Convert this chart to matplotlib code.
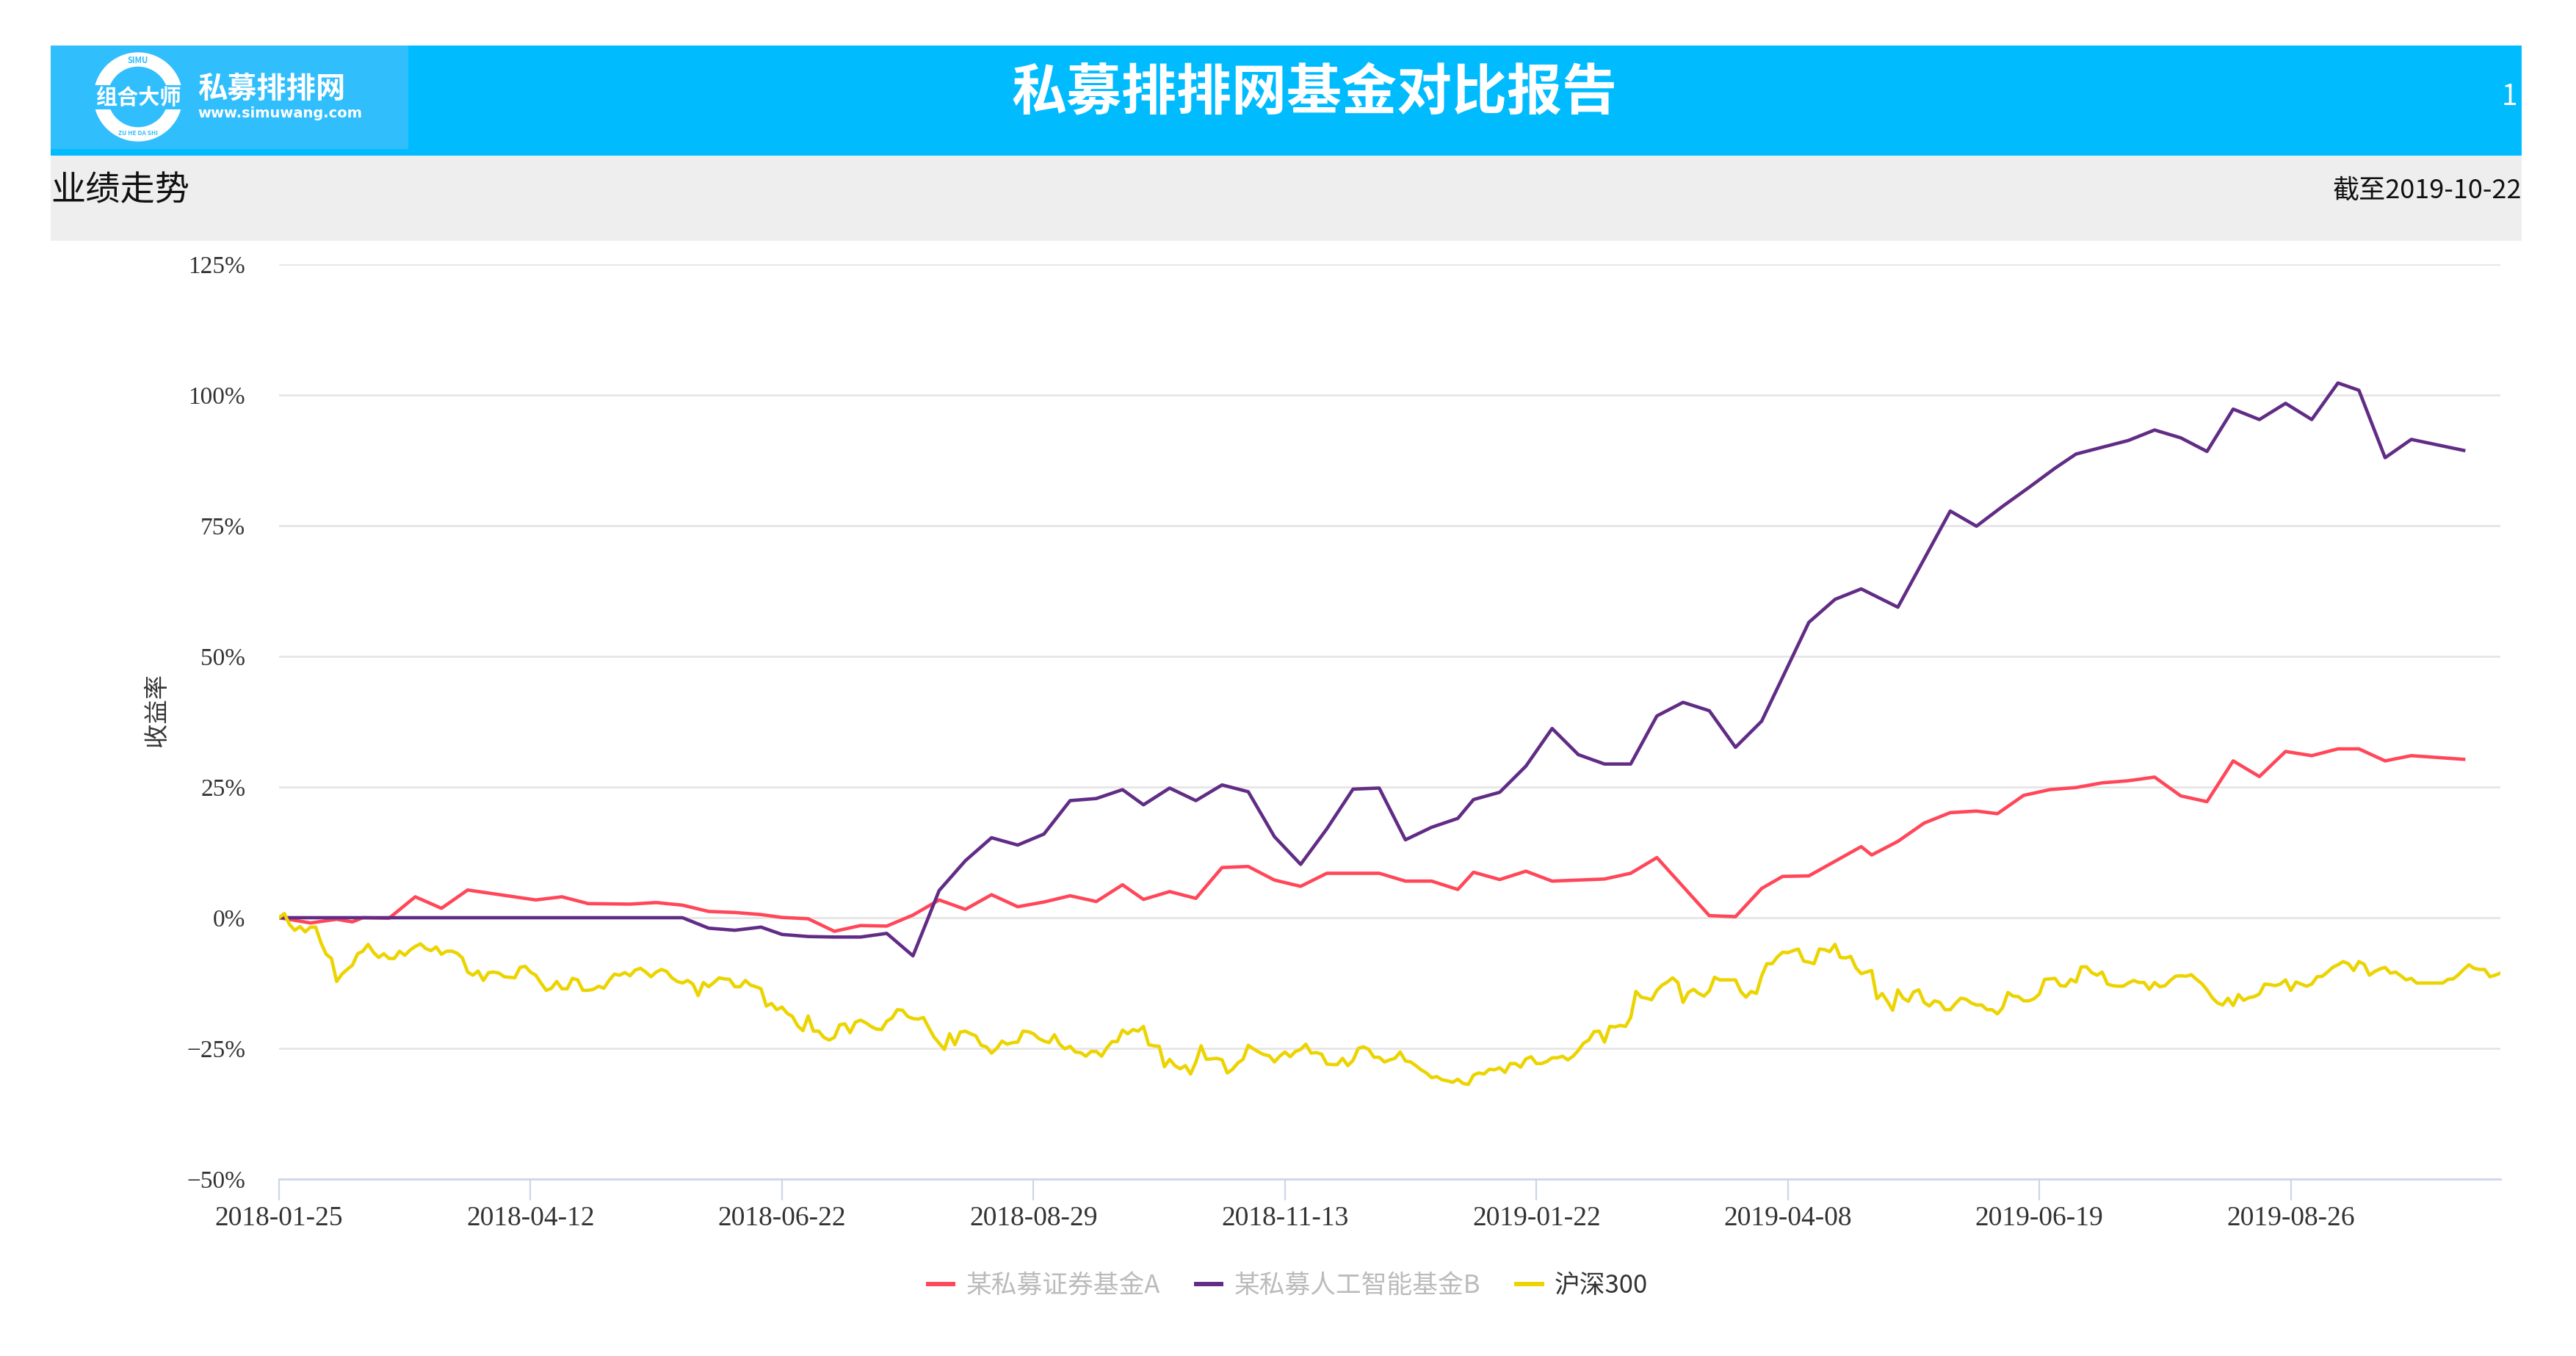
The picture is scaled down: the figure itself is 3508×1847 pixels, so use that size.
import numpy as np
import matplotlib.pyplot as plt
from matplotlib.patches import Rectangle, Circle

plt.rcParams['font.family'] = ['Noto Sans CJK SC', 'DejaVu Sans']

# 横轴是交易日序号（类目轴），每 48 个交易日一个标签
date_labels = ['2018-01-25', '2018-04-12', '2018-06-22', '2018-08-29', '2018-11-13',
               '2019-01-22', '2019-04-08', '2019-06-19', '2019-08-26']
label_step = 48
n_days = 425

y_ticks = [-50, -25, 0, 25, 50, 75, 100, 125]

fund_names = ['某私募证券基金A', '某私募人工智能基金B', '沪深300']

# 基金一（周度净值，单位 %）
fund_a_idx = [0, 6, 11, 14, 16, 21, 26, 31, 36, 49, 54, 59, 67, 72, 77, 82, 87, 92, 96, 101,
              106, 111, 116, 121, 126, 131, 136, 141, 146, 151, 156, 161, 165, 170, 175, 180,
              185, 190, 195, 200, 210, 215, 220, 225, 228, 233, 238, 243, 253, 258, 263, 273,
              278, 283, 287, 292, 297, 302, 304, 309, 314, 319, 324, 328, 333, 338, 343, 348,
              353, 358, 363, 368, 373, 378, 383, 388, 393, 397, 402, 407, 417]
fund_a_ret = [0.0, -1.0, -0.3, -0.8, 0.0, -0.1, 4.0, 1.8, 5.3, 3.4, 4.0, 2.7, 2.6, 2.9, 2.4,
              1.2, 1.0, 0.6, 0.05, -0.2,
              -2.6, -1.5, -1.6, 0.5, 3.4, 1.6, 4.4, 2.1, 3.0, 4.2, 3.1, 6.3, 3.5, 5.0, 3.7, 9.6,
              9.8, 7.2, 6.0, 8.5, 8.5, 7.0, 7.0, 5.4, 8.7, 7.3, 8.9, 7.0, 7.4, 8.5, 11.5, 0.4,
              0.2, 5.6, 7.9, 8.0, 10.8, 13.6, 12.0, 14.6, 18.1, 20.1, 20.4, 19.9, 23.4, 24.5,
              24.9, 25.8, 26.2, 26.9, 23.3, 22.2, 30.0, 27.0, 31.8, 31.0, 32.3, 32.3, 30.0,
              31.0, 30.3]

# 基金二（周度净值，单位 %）
fund_b_idx = [0, 77, 82, 87, 92, 96, 101, 106, 111, 116, 121, 126, 131, 136, 141, 146, 151,
              156, 161, 165, 170, 175, 180, 185, 190, 195, 200, 205, 210, 215, 220, 225, 228,
              233, 238, 243, 248, 253, 258, 263, 268, 273, 278, 283, 292, 297, 302, 309, 319,
              324, 329, 334, 339, 343, 348, 353, 358, 363, 368, 373, 378, 383, 388, 393, 397,
              402, 407, 417]
fund_b_ret = [0.0, 0.0, -2.0, -2.4, -1.8, -3.2, -3.6, -3.7, -3.7, -3.0, -7.3, 5.2, 10.9, 15.3,
              13.9, 16.0, 22.4, 22.8, 24.5, 21.6, 24.8, 22.4, 25.4, 24.1, 15.5, 10.2, 17.0,
              24.6, 24.8, 14.9, 17.3, 19.0, 22.6, 24.0, 29.0, 36.2, 31.2, 29.4, 29.4, 38.6,
              41.2, 39.6, 32.6, 37.6, 56.5, 60.9, 62.9, 59.4, 77.8, 74.9, 78.7, 82.3, 86.0,
              88.7, 90.0, 91.3, 93.3, 91.8, 89.2, 97.3, 95.3, 98.4, 95.3, 102.3, 100.9, 88.0,
              91.5, 89.4]

# 沪深300（日度，单位 %）
hs300_ret = [
    0.0, 0.8, -1.3, -2.4, -1.7, -2.7, -1.8, -1.8, -4.8, -7.0,
    -7.8, -12.2, -10.8, -9.9, -9.1, -6.9, -6.4, -5.1, -6.6, -7.6,
    -6.9, -7.8, -7.8, -6.4, -7.2, -6.2, -5.5, -5.0, -5.9, -6.3,
    -5.6, -7.0, -6.4, -6.4, -6.8, -7.7, -10.4, -11.0, -10.2, -12.0,
    -10.5, -10.4, -10.6, -11.3, -11.4, -11.5, -9.5, -9.3, -10.4, -11.0,
    -12.5, -13.9, -13.5, -12.2, -13.6, -13.6, -11.6, -11.9, -13.9, -13.9,
    -13.7, -13.1, -13.5, -12.0, -10.8, -11.0, -10.5, -11.1, -10.0, -9.7,
    -10.4, -11.3, -10.4, -9.9, -10.3, -11.5, -12.2, -12.5, -12.0, -12.7,
    -14.9, -12.4, -13.2, -12.4, -11.5, -11.7, -11.8, -13.2, -13.2, -12.0,
    -12.9, -13.2, -13.6, -16.9, -16.4, -17.6, -17.1, -18.3, -18.9, -20.7,
    -21.6, -18.8, -21.7, -21.7, -22.9, -23.4, -22.9, -20.5, -20.3, -22.0,
    -20.0, -19.6, -20.1, -20.8, -21.3, -21.4, -19.8, -19.2, -17.6, -17.7,
    -18.9, -19.3, -19.4, -19.1, -21.0, -22.8, -24.0, -25.2, -22.2, -24.3,
    -21.9, -21.7, -22.2, -22.6, -24.4, -24.7, -25.9, -25.0, -23.6, -24.2,
    -23.9, -23.8, -21.7, -21.8, -22.2, -23.1, -23.6, -23.9, -22.4, -24.2,
    -25.1, -24.6, -25.7, -25.8, -26.5, -25.6, -25.6, -26.5, -24.9, -23.7,
    -23.7, -21.5, -22.2, -21.4, -21.7, -20.8, -24.3, -24.5, -24.6, -28.5,
    -27.1, -28.3, -28.9, -28.3, -29.9, -27.6, -24.5, -27.1, -27.0, -26.9,
    -27.2, -29.7, -29.0, -27.8, -27.1, -24.4, -25.1, -25.7, -26.2, -26.4,
    -27.6, -26.5, -25.7, -26.6, -25.6, -25.2, -24.2, -25.9, -25.8, -26.1,
    -28.0, -28.1, -28.1, -26.9, -28.3, -27.3, -25.0, -24.7, -25.2, -26.7,
    -26.7, -27.6, -27.2, -26.9, -25.7, -27.4, -27.6, -28.3, -29.1, -29.7,
    -30.6, -30.4, -31.0, -31.2, -31.5, -30.9, -31.7, -31.9, -30.1, -29.7,
    -29.9, -29.0, -29.1, -28.7, -29.6, -27.9, -27.9, -28.6, -27.0, -26.6,
    -27.9, -27.9, -27.5, -26.8, -26.8, -26.5, -27.2, -26.5, -25.4, -24.0,
    -23.4, -21.8, -21.7, -23.8, -20.8, -20.9, -20.6, -20.8, -19.1, -14.1,
    -15.2, -15.4, -15.7, -13.9, -12.9, -12.3, -11.5, -12.4, -16.2, -14.3,
    -13.7, -14.5, -15.0, -14.0, -11.4, -11.9, -11.9, -11.9, -11.9, -14.1,
    -15.2, -14.1, -14.5, -11.1, -8.8, -8.8, -7.5, -6.6, -6.7, -6.3,
    -6.0, -8.3, -8.5, -8.8, -6.0, -6.1, -6.5, -5.1, -7.6, -7.7,
    -7.4, -9.6, -10.7, -10.4, -10.1, -15.5, -14.5, -16.0, -17.7, -13.8,
    -15.4, -16.0, -14.2, -13.8, -16.2, -16.9, -15.9, -16.2, -17.6, -17.6,
    -16.4, -15.4, -15.6, -16.3, -16.7, -16.7, -17.6, -17.6, -18.4, -17.2,
    -14.3, -15.0, -15.1, -15.9, -15.9, -15.5, -14.6, -11.8, -11.7, -11.6,
    -13.0, -13.1, -11.8, -12.3, -9.4, -9.4, -10.5, -11.0, -10.4, -12.7,
    -13.0, -13.1, -13.1, -12.5, -12.0, -12.4, -12.4, -13.7, -12.4, -13.2,
    -13.0, -12.0, -11.2, -11.1, -11.2, -10.9, -11.8, -12.6, -13.8, -15.3,
    -16.3, -16.7, -15.4, -16.8, -14.7, -15.8, -15.3, -15.1, -14.6, -12.7,
    -12.8, -13.0, -12.7, -11.9, -13.9, -12.3, -12.7, -13.1, -12.7, -11.3,
    -11.2, -10.4, -9.5, -9.0, -8.4, -8.8, -10.1, -8.4, -8.9, -11.0,
    -10.3, -9.8, -9.5, -10.6, -10.4, -11.1, -11.9, -11.6, -12.5, -12.5,
    -12.5, -12.5, -12.5, -12.5, -11.8, -11.7, -10.9, -9.9, -9.0, -9.7,
    -9.9, -9.9, -11.3, -11.0, -10.6,
]

colors = ['#ff4759', '#612c85', '#ecd400']

W, H = 3508, 1847
fig = plt.figure(figsize=(W / 100, H / 100), dpi=100)

# 顶部页眉，按像素坐标画
bg = fig.add_axes([0, 0, 1, 1])
bg.set_xlim(0, W)
bg.set_ylim(H, 0)
bg.axis('off')
bg.add_patch(Rectangle((69, 62), 3365, 150, color='#00bcff', lw=0))
bg.add_patch(Rectangle((69, 62), 487, 141, color='#30befd', lw=0))
bg.add_patch(Rectangle((69, 212), 3365, 116, color='#eeeeee', lw=0))

# logo
bg.add_patch(Circle((188, 132), 51, fill=False, ec='white', lw=14))
bg.add_patch(Rectangle((118, 116), 140, 33, color='#30befd', lw=0))
bg.text(188, 133, '组合大师', color='white', fontsize=21, fontweight='bold', ha='center', va='center')
bg.text(188, 82, 'SIMU', color='#30befd', fontsize=8, fontweight='bold', ha='center', va='center')
bg.text(188, 182, 'ZU HE DA SHI', color='#30befd', fontsize=6, fontweight='bold', ha='center', va='center')
bg.text(269, 121, '私募排排网', color='white', fontsize=29, fontweight='bold', ha='left', va='center')
bg.text(269, 155, 'www.simuwang.com', color='white', fontsize=14, fontweight='bold',
        ha='left', va='center', family='DejaVu Sans')

bg.text(1790, 127, '私募排排网基金对比报告', color='white', fontsize=54, fontweight='bold',
        ha='center', va='center')
bg.text(3428, 132, '1', color='white', fontsize=28, ha='right', va='center')
bg.text(69, 260, '业绩走势', color='#111111', fontsize=34, ha='left', va='center')
bg.text(3434, 260, '截至2019-10-22', color='#111111', fontsize=26, ha='right', va='center')

# 主图
ax = fig.add_axes([380 / W, 1 - 1606 / H, (3405 - 380) / W, (1606 - 360) / H])
l1, = ax.plot(fund_a_idx, fund_a_ret, color=colors[0], lw=3.3, solid_joinstyle='round', zorder=3)
l2, = ax.plot(fund_b_idx, fund_b_ret, color=colors[1], lw=3.3, solid_joinstyle='round', zorder=4)
l3, = ax.plot(np.arange(len(hs300_ret)), hs300_ret, color=colors[2], lw=3.3,
              solid_joinstyle='round', zorder=5)

ax.set_xlim(0, n_days - 1)
ax.set_ylim(-50, 125)
ax.set_yticks(y_ticks)
ax.set_yticklabels([f'{v}%'.replace('-', '−') for v in y_ticks], fontfamily='Liberation Serif')
ax.set_xticks([i * label_step for i in range(len(date_labels))])
ax.set_xticklabels(date_labels, fontfamily='Liberation Serif')

ax.yaxis.grid(True, color='#e6e6e6', lw=2)
ax.set_axisbelow(True)
for s in ['top', 'right', 'left']:
    ax.spines[s].set_visible(False)
ax.spines['bottom'].set_color('#ccd6eb')
ax.spines['bottom'].set_linewidth(2)
ax.tick_params(axis='x', length=21, width=1.6, color='#ccd6eb', pad=5,
               labelsize=27, labelcolor='#333333')
ax.tick_params(axis='y', length=0, pad=33, labelsize=24, labelcolor='#333333')

fig.text(214 / W, 1 - 967 / H, '收益率', rotation=90, ha='center', va='center',
         fontsize=24, color='#333333')

leg = fig.legend([l1, l2, l3], fund_names, loc='center', bbox_to_anchor=(0.5, 1 - 1752 / H),
                 ncol=3, frameon=False, fontsize=25, handlelength=1.0, handletextpad=0.5,
                 columnspacing=1.4)
for t, c in zip(leg.get_texts(), ['#bbbbbb', '#bbbbbb', '#333333']):
    t.set_color(c)
for h in leg.legend_handles:
    h.set_linewidth(4.3)

fig.savefig('out.png', dpi=100)
